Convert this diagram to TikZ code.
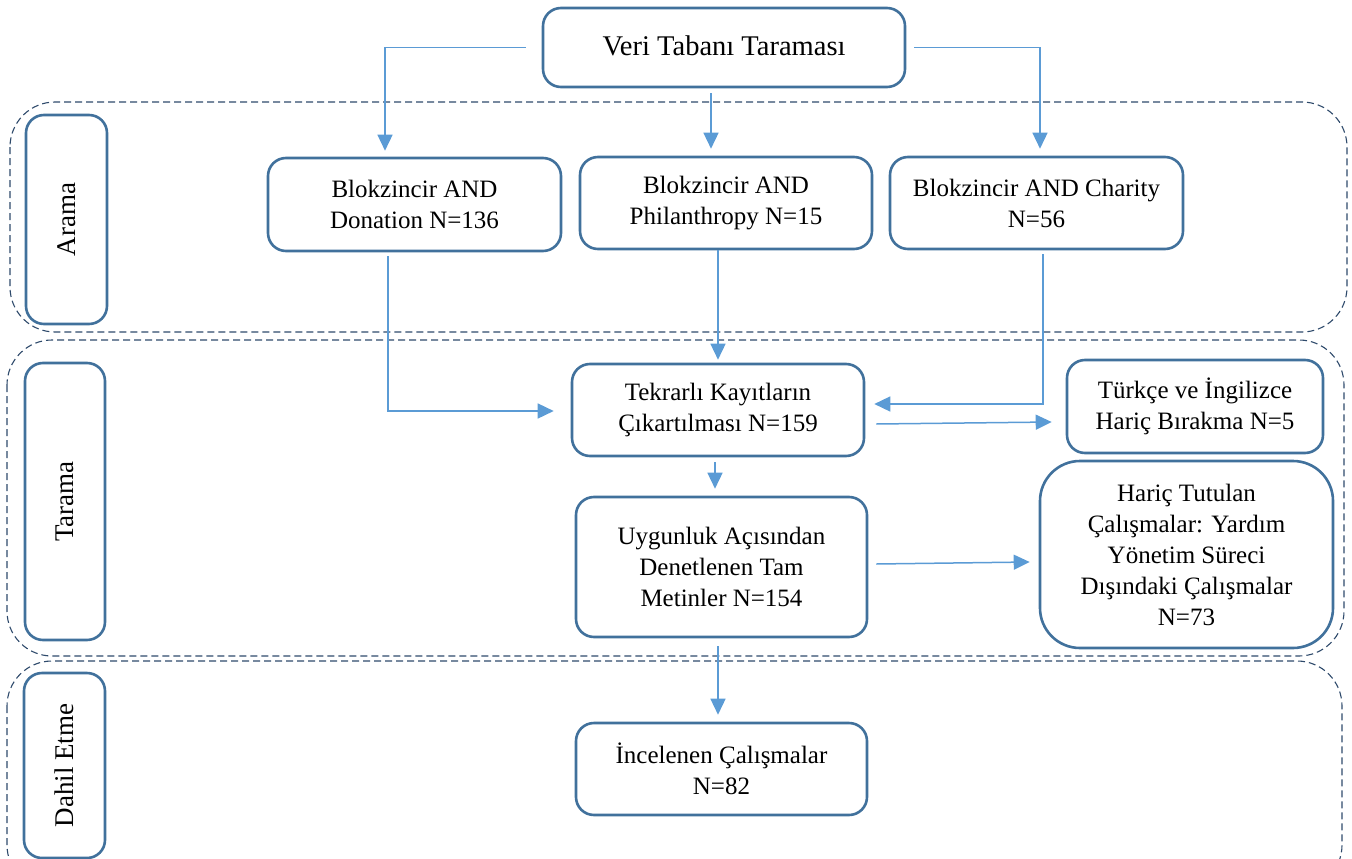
\documentclass[tikz,border=0pt]{standalone}
\usepackage{fontspec}
\setmainfont{Liberation Serif}
\usetikzlibrary{arrows.meta}
\definecolor{boxc}{HTML}{41719C}
\definecolor{arrc}{HTML}{5B9BD5}
\definecolor{regc}{HTML}{2E4A6B}
\begin{document}
\begin{tikzpicture}[x=1pt,y=-1pt,
  box/.style={draw=boxc, line width=2.6pt, rounded corners=18pt, align=center,
    font=\fontsize{25}{31}\selectfont, inner sep=0pt, fill=white},
  lab/.style={box, rotate=90, font=\fontsize{27}{31}\selectfont},
  region/.style={draw=regc, line width=1.1pt, dash pattern=on 7pt off 4pt, rounded corners=45pt},
  arr/.style={draw=arrc, line width=1.5pt, -{Triangle[length=16pt,width=15pt]}}]
\useasboundingbox (0,0) rectangle (1352,859);
% regions
\draw[region] (10,102) rectangle (1347,332);
\draw[region] (7,340) rectangle (1344,656);
\draw[region] (7,661) rectangle (1342,890);
% labels
\node[lab, minimum width=209pt, minimum height=81pt] (arama) at (66.5,219.5) {Arama};
\node[lab, minimum width=277pt, minimum height=80pt] (tarama) at (65,501.5) {Tarama};
\node[lab, minimum width=185pt, minimum height=81pt] (dahil) at (64.5,765.5) {Dahil Etme};
% boxes
\node[box, font=\fontsize{28.5}{32}\selectfont, minimum width=362pt, minimum height=79pt] (top) at (724,47.5) {\raisebox{4pt}{Veri Tabanı Taraması}};
\node[box, minimum width=293pt, minimum height=93pt] (don) at (414.5,204.5) {Blokzincir AND\\Donation N=136};
\node[box, minimum width=292pt, minimum height=92pt] (phi) at (726,203) {Blokzincir AND\\Philanthropy N=15};
\node[box, minimum width=293pt, minimum height=92pt] (cha) at (1036.5,203) {Blokzincir AND Charity\\N=56};
\node[box, minimum width=292pt, minimum height=92pt] (tek) at (718,410) {Tekrarlı Kayıtların\\Çıkartılması N=159};
\node[box, minimum width=256pt, minimum height=93pt] (tur) at (1195,406.5) {Türkçe ve İngilizce\\Hariç Bırakma N=5};
\node[box, minimum width=291pt, minimum height=140pt] (uyg) at (721.5,567) {Uygunluk Açısından\\Denetlenen Tam\\Metinler N=154};
\node[box, rounded corners=40pt, minimum width=293pt, minimum height=187pt] (har) at (1186.5,554.5) {Hariç Tutulan\\Çalışmalar: Yardım\\Yönetim Süreci\\Dışındaki Çalışmalar\\N=73};
\node[box, minimum width=291pt, minimum height=92pt] (inc) at (721.5,769) {İncelenen Çalışmalar\\N=82};
% connectors
\draw[arr] ([xshift=-16pt]top.west) -| ([xshift=-29.5pt,yshift=6pt]don.north);
\draw[arr] ([xshift=-13pt,yshift=-5pt]top.south) -- ([xshift=-15pt,yshift=7pt]phi.north);
\draw[arr] ([xshift=8pt]top.east) -| ([xshift=3.5pt,yshift=7pt]cha.north);
\draw[arr] ([xshift=-26.5pt,yshift=-4pt]don.south) |- ([xshift=-17pt,yshift=-1pt]tek.west);
\draw[arr] ([xshift=-8pt]phi.south) -- ([yshift=3pt]tek.north);
\draw[arr] ([xshift=6.5pt,yshift=-4pt]cha.south) |- ([xshift=9pt,yshift=6pt]tek.east);
\draw[arr] ([xshift=11pt,yshift=-14pt]tek.east) -- ([xshift=-14pt,yshift=-15.5pt]tur.west);
\draw[arr] ([xshift=-3pt,yshift=-5pt]tek.south) -- ([xshift=-6.5pt,yshift=7pt]uyg.north);
\draw[arr] ([xshift=8pt,yshift=3pt]uyg.east) -- ([xshift=-9pt,yshift=-7.5pt]har.west);
\draw[arr] ([xshift=-3.5pt,yshift=-8pt]uyg.south) -- ([xshift=-3.5pt,yshift=7pt]inc.north);
\end{tikzpicture}
\end{document}
